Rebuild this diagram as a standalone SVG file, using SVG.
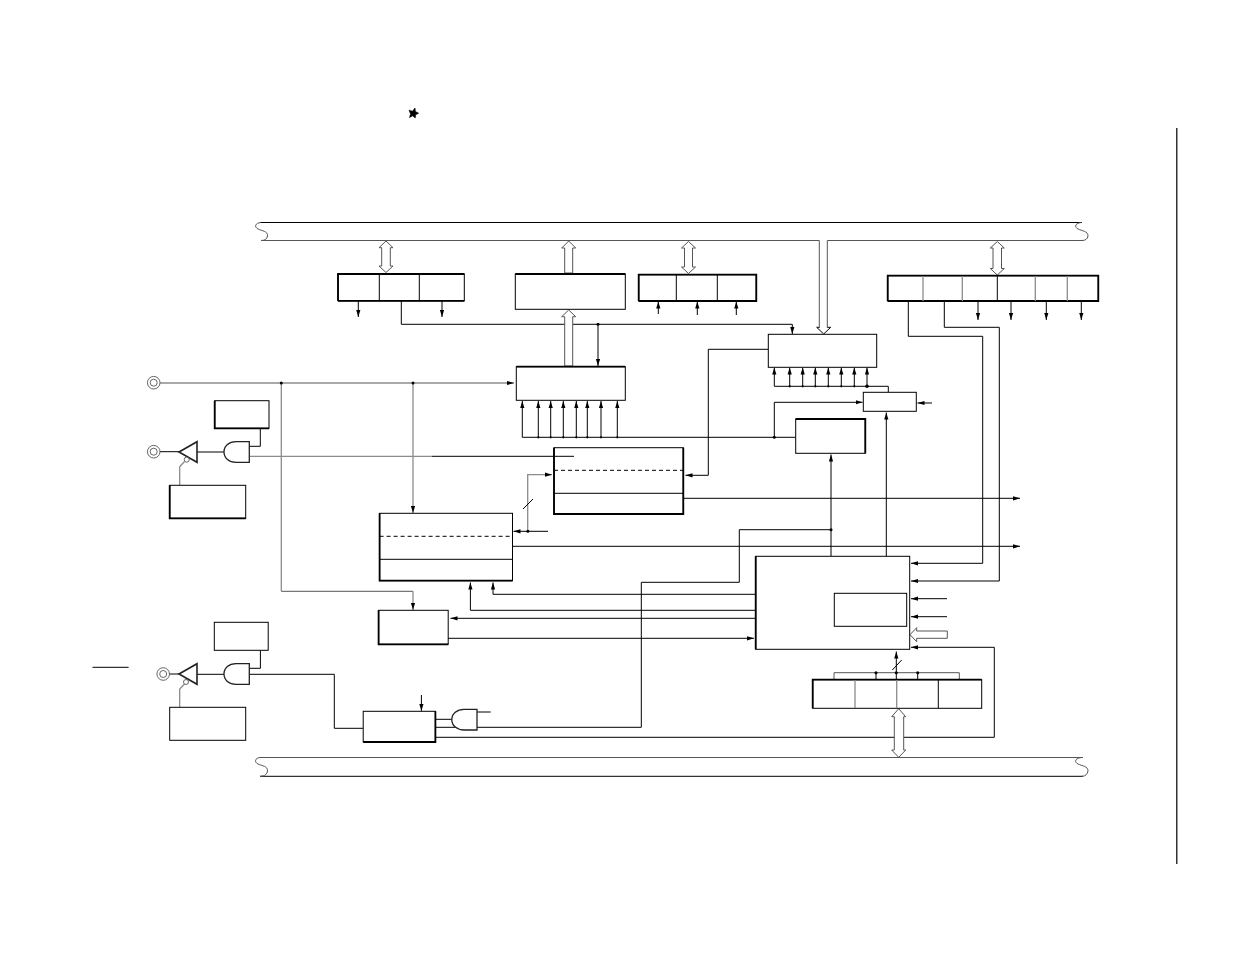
<svg xmlns="http://www.w3.org/2000/svg" width="1235" height="954" viewBox="0 0 1235 954">
<style>
rect{fill:#fff;stroke:#000;stroke-width:1}
path,line,polyline{fill:none;stroke:#000;stroke-width:1}
.k{stroke-width:1.8}
.g{stroke:#8c8c8c;stroke-width:1.3}
.d{stroke:#555}
.da{stroke-dasharray:4 3}
.a{marker-end:url(#ah)}
.h{fill:#fff;stroke:#555;stroke-width:1}
.w{fill:#fff;stroke:#222;stroke-width:1.3}
.p{fill:#fff;stroke:#555;stroke-width:.9}
circle.o{fill:#000;stroke:none}
</style>
<defs>
<marker id="ah" markerUnits="userSpaceOnUse" markerWidth="8" markerHeight="6" viewBox="0 0 8 6" refX="7" refY="3" orient="auto"><path d="M0 .9L7 3L0 5.1Z" style="fill:#000;stroke:none"/></marker>
</defs>
<path id="star" d="M415 108L415.400 111.500L418.600 113.200L415.600 114.800L415.200 118L412.800 115.800L409.500 117.500L410.600 114L409 110.200L412.500 111.200Z" style="fill:#000;stroke:#000;stroke-width:.6"/>
<line id="margin-rule" x1="1176.800" y1="128" x2="1176.800" y2="864" style="stroke-width:1.200"/>
<line id="overbar" x1="92.500" y1="667.300" x2="128.600" y2="667.300"/>

<g id="connectors">
<path d="M401.300 301V324.300H792.300"/><path class="a" d="M792.300 324.300V334"/>
<path class="a" d="M598 324.300V366"/>
<path class="a" d="M358.300 301V317"/><path class="a" d="M442 301V317"/>
<path class="a" d="M658.300 314V301.500"/><path class="a" d="M697.300 315V301.500"/><path class="a" d="M736.300 315V301.500"/>
<path class="a" d="M978 301V320"/><path class="a" d="M1011 301V320"/><path class="a" d="M1046.300 301V320"/><path class="a" d="M1081.300 301V320"/>
<path class="a" d="M908.300 301V336.300H982.700V563.300H911"/>
<path class="a" d="M944.300 301V327.300H999.300V581H911"/>
<path d="M774.300 386.300H888.300V392.300"/>
<path class="a" d="M774.300 386.300V367.500"/><path class="a" d="M789.700 386.300V367.500"/><path class="a" d="M802.700 386.300V367.500"/><path class="a" d="M815.300 386.300V367.500"/><path class="a" d="M828.300 386.300V367.500"/><path class="a" d="M841.300 386.300V367.500"/><path class="a" d="M854.300 386.300V367.500"/><path class="a" d="M867 386.300V367.500"/>
<path class="a" d="M932 403H917.500"/>
<path class="a" d="M774.300 437.300V402.300H862.500"/>
<path d="M522.300 437.300H795.700"/>
<path class="a" d="M522.300 437.300V401"/><path class="a" d="M538.300 437.300V401"/><path class="a" d="M550.700 437.300V401"/><path class="a" d="M563.300 437.300V401"/><path class="a" d="M576.300 437.300V401"/><path class="a" d="M587.300 437.300V401"/><path class="a" d="M601 437.300V401"/><path class="a" d="M617.300 437.300V401"/>
<path class="a" d="M831 556V454.500"/>
<path class="a" d="M886.300 556V412.500"/>
<path d="M831 529.700H739.300V582.300H641.300V727.300H477"/>
<path class="g a" d="M160 383H514"/>
<path class="g a" d="M413 383V513"/>
<path class="g" d="M281.300 383V591.300"/>
<path class="d" d="M281.300 591.300H413"/><path class="g a" d="M413 591.300V610"/>
<path class="g" d="M250 456.300H432"/><path d="M432 456.300H574"/>
<path class="g a" d="M527.700 531.300V474.700H552"/>
<path class="a" d="M548 531.300H513.500"/>
<line x1="523" y1="509" x2="533" y2="499"/>
<path class="a" d="M768.300 349.300H708.300V475.300H685.500"/>
<path class="a" d="M684 498.300H1020"/>
<path class="a" d="M512.500 546.300H1020"/>
<path class="a" d="M947 598.700H911"/><path class="a" d="M947 616.700H911"/>
<path class="a" d="M436 737.300H994.300V647.300H911"/>
<path class="a" d="M896.300 680V651.500"/>
<line x1="892.300" y1="670" x2="901.700" y2="660"/>
<path class="d" d="M834 679.700V672.700H959.300V679.700"/>
<line x1="876" y1="672.700" x2="876" y2="679.700"/><line x1="917.700" y1="672.700" x2="917.700" y2="679.700"/>
<path class="a" d="M755.700 594.300H493V582.500"/>
<path class="a" d="M755.700 610.300H470.400V582.500"/>
<path class="a" d="M755.700 618.300H450.500"/>
<path class="a" d="M448 638.300H754"/>
<path d="M154 451.700H179"/><path d="M197 452H224"/>
<path d="M249.300 446.300H260.300V428.300"/>
<path d="M168 674H179"/><path d="M197 674.300H224"/>
<path d="M249.300 668.300H260.400V650.300"/>
<path d="M249.300 674.300H334.300V728.300H363.200"/>
<path class="g" d="M184.500 461.500L179.700 466.700V485.300"/>
<path class="g" d="M184.500 684L179.700 689V707.300"/>
<path class="a" d="M421.400 695V711"/>
<path d="M435.400 719.300H452"/><path d="M435.400 727.300H456"/>
<path d="M477 712H490.700"/>
<g>
<circle class="o" cx="281.300" cy="383" r="1.500"/><circle class="o" cx="413" cy="383" r="1.500"/>
<circle class="o" cx="598" cy="324.300" r="1.500"/>
<circle class="o" cx="527.900" cy="531.300" r="1.500"/>
<circle class="o" cx="774.300" cy="437.300" r="1.500"/>
<circle class="o" cx="831" cy="529.700" r="1.500"/>
<circle class="o" cx="867" cy="386.300" r="1.800"/>
<circle class="o" cx="876" cy="672.700" r="1.500"/><circle class="o" cx="896.300" cy="672.700" r="1.500"/><circle class="o" cx="917.700" cy="672.700" r="1.500"/>
<circle class="o" cx="538.300" cy="437.300" r="1.100"/><circle class="o" cx="550.700" cy="437.300" r="1.100"/><circle class="o" cx="563.300" cy="437.300" r="1.100"/><circle class="o" cx="576.300" cy="437.300" r="1.100"/><circle class="o" cx="587.300" cy="437.300" r="1.100"/><circle class="o" cx="601" cy="437.300" r="1.100"/><circle class="o" cx="617.300" cy="437.300" r="1.100"/>
<circle class="o" cx="789.700" cy="386.300" r="1.100"/><circle class="o" cx="802.700" cy="386.300" r="1.100"/><circle class="o" cx="815.300" cy="386.300" r="1.100"/><circle class="o" cx="828.300" cy="386.300" r="1.100"/><circle class="o" cx="841.300" cy="386.300" r="1.100"/><circle class="o" cx="854.300" cy="386.300" r="1.100"/>
</g>
<path class="h" d="M386 241L393 247.700H390.300V266H393L386 272.500L379 266H381.700V247.700H379Z"/>
<path class="h" d="M568.700 241L575.700 248H572.700V273H564.700V248H561.700Z"/>
<path class="h" d="M568.700 310L575.700 316.700H572.700V366H564.700V316.700H561.700Z"/>
<path class="h" d="M688.500 241.500L695.500 248H692.500V267H695.500L688.500 273.500L681.500 267H684.500V248H681.500Z"/>
<path class="h" d="M997.300 241.500L1004.300 248H1001.500V268.500H1004.300L997.300 275L990.300 268.500H993V248H990.300Z"/>
<path class="h" d="M898.700 708.700L905.700 716.700H903.700V750H905.700L898.700 757.300L891.700 750H894.300V716.700H891.700Z"/>
<path class="h" d="M910 634.700L916.700 627.700V631H947.300V638.300H916.700V641.700Z"/>
<path class="h" style="stroke:#000" d="M823.700 334L816.700 327.300H819.300"/><path class="h" style="stroke:#000" d="M823.700 334L830.700 327.300H827.300"/>
</g>

<g id="bus-top">
<path d="M260 222.500H1082"/>
<path class="d" d="M262 240.500H819.300V328M827.300 328V240.500H1083"/>
<path class="d" d="M261 222.500C255 223 254 227 258 229C262 231 268 231 267.500 236C267 239 265 240.500 261 240.500"/>
<path class="d" d="M1081.500 222.500C1075 223 1074 227 1078 229C1082 231 1088 231 1088 236C1087.500 239 1085.500 240.500 1082 240.500"/>
</g>
<g id="bus-bottom">
<path class="d" d="M260 757.500H1083"/>
<path d="M260 776.300H1083"/>
<path class="d" d="M260 757.500C255 758 254 762 258 764C262 766 268 766 267.500 771C267 774 265 776.300 260 776.300"/>
<path class="d" d="M1081.500 757.500C1075 758 1074 762 1078 764C1082 766 1088 766 1088 771C1087.500 774 1085.500 776.300 1082 776.300"/>
</g>

<g id="reg-a"><rect x="338" y="274" width="126.300" height="26.800"/><path class="k" d="M338 300.800V274H464.300M338 300.800H464.300"/><path d="M379.300 274V300.800M419.300 274V300.800"/></g>
<g id="reg-b"><rect x="515.300" y="274" width="110" height="35.300"/><path class="k" d="M515.300 274H625.300"/></g>
<g id="reg-c"><rect x="638.700" y="274.700" width="117.600" height="26.300"/><path class="k" d="M638.700 301V274.700H756.300V301H638.700"/><path d="M676.300 274.700V301M717.300 274.700V301"/></g>
<g id="reg-d"><rect x="887.700" y="275.700" width="210.600" height="25.300"/><path class="k" d="M887.700 301V275.700H1098.300V301H887.700"/><path class="g" d="M923 276V301M962.300 276V301M1035.300 276V301M1067.300 276V301"/><path d="M997.300 276V301"/></g>
<g id="box-e"><rect x="516.300" y="366.700" width="109" height="33.600"/><path class="k" d="M516.300 366.700H625.300"/></g>
<g id="box-f"><rect x="768.300" y="334.300" width="108.400" height="33"/></g>
<g id="box-g"><rect x="863.300" y="392.300" width="53" height="19"/></g>
<g id="box-h"><rect x="795.700" y="419" width="69.600" height="34.300"/><path class="k" d="M795.700 419H865.300V453.300"/></g>
<g id="box-i"><rect x="554" y="447.700" width="129.300" height="66.300"/><path class="k" d="M554 447.700V514H683.300V447.700"/><path class="da" d="M554 470.300H683.300"/><path d="M554 493.300H683.300"/><path d="M554 456.300H574"/></g>
<g id="box-j"><rect x="379.600" y="513.300" width="132.900" height="67.400"/><path class="k" d="M379.600 513.300V580.700H512.500"/><path class="da" d="M379.600 536.300H512.500"/><path d="M379.600 559.300H512.500"/></g>
<g id="box-k"><rect x="755.700" y="556.300" width="154" height="93"/><path class="k" d="M755.700 556.300V649.300"/><rect x="834.300" y="593.300" width="72.400" height="33"/></g>
<g id="reg-l"><rect x="812.700" y="679.700" width="169" height="28.600"/><path class="k" d="M812.700 708.300V679.700H981.700"/><path class="g" d="M855 680V708M896.700 680V708"/><path d="M938.300 680V708"/></g>
<g id="box-m"><rect x="378.600" y="610.300" width="69.600" height="34"/><path class="k" d="M378.600 610.300V644.300H448.200"/></g>
<g id="box-n"><rect x="214.700" y="400.700" width="54.300" height="27.600"/><path class="k" d="M214.700 400.700V428.300H269"/></g>
<g id="box-o"><rect x="169.700" y="485.300" width="76" height="33"/><path class="k" d="M169.700 485.300V518.300H245.700"/></g>
<g id="box-p"><rect x="214.300" y="622.300" width="53.900" height="28"/></g>
<g id="box-q"><rect x="363.200" y="711.300" width="72.200" height="30.700"/><path class="k" d="M435.400 711.300V742H363.200"/></g>
<g id="box-r"><rect x="169.700" y="707.300" width="76" height="33"/></g>

<g id="pin-1"><circle class="p" cx="153.700" cy="382.700" r="6.300"/><circle class="p" cx="153.700" cy="382.700" r="3.500"/></g>
<g id="pin-2"><circle class="p" cx="153.700" cy="451.700" r="6.300"/><circle class="p" cx="153.700" cy="451.700" r="3.500"/></g>
<g id="pin-3"><circle class="p" cx="163.200" cy="674" r="6.300"/><circle class="p" cx="163.200" cy="674" r="3.500"/></g>
<g id="buffer-1"><path class="w" style="stroke-width:1.600" d="M179 452L197 441.700V462.300Z"/><circle class="p" cx="186.700" cy="459.700" r="2.500"/></g>
<g id="buffer-2"><path class="w" style="stroke-width:1.600" d="M179 674L197 663.700V684.300Z"/><circle class="p" cx="186" cy="682" r="2.500"/></g>
<g id="and-1"><path class="w" d="M249.300 441.700H236C229 441.700 224 446 224 452C224 458 229 462.300 236 462.300H249.300Z"/></g>
<g id="and-2"><path class="w" d="M249.300 663.700H236C229 663.700 224 668 224 674C224 680 229 684.300 236 684.300H249.300Z"/></g>
<g id="and-3"><path class="w" d="M477 709.300H464C457 709.300 451.800 714 451.800 719.700C451.800 725.500 457 730 464 730H477Z"/></g>
</svg>
